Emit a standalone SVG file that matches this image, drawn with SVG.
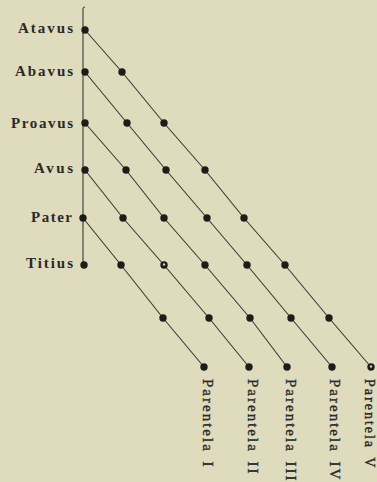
<svg xmlns="http://www.w3.org/2000/svg" width="377" height="482" viewBox="0 0 377 482">
<style>
.bg{fill:#dfdbbd}
.ln{fill:none;stroke:#3a3a36;stroke-width:1.1;stroke-linecap:round;stroke-linejoin:round}
.dot{fill:#1c1c1a}
.hole{fill:#cfcbb0}
.lab{font-family:"Liberation Serif",serif;font-weight:bold;font-size:15px;fill:#2a2a28}
.par{font-family:"Liberation Serif",serif;font-size:15px;fill:#2a2a28;stroke:#2a2a28;stroke-width:0.35;letter-spacing:2px;word-spacing:3px}
</style>
<rect class="bg" width="377" height="482"/>
<g id="connectors">
<path class="ln" d="M83,265 L83,9 Q83,7 84.5,7"/>
<polyline class="ln" points="85,30 122,72 164,123 205,170 244,218 285,265 329,318 371,367"/>
<polyline class="ln" points="85,72 127,123 166,170 207,218 247,265 291,318 332,367"/>
<polyline class="ln" points="85,123 126,170 164,218 205,265 250,318 287,367"/>
<polyline class="ln" points="85,170 123,218 164,265 209,318 249,367"/>
<polyline class="ln" points="83,218 121,265 163,318 204,367"/>
</g>
<g id="atavus"><circle class="dot" cx="85" cy="30" r="3.7"/><text class="lab" x="18" y="33" textLength="55" lengthAdjust="spacing">Atavus</text></g>
<g id="abavus"><circle class="dot" cx="85" cy="72" r="3.7"/><text class="lab" x="15" y="76" textLength="58" lengthAdjust="spacing">Abavus</text></g>
<g id="proavus"><circle class="dot" cx="85" cy="123" r="3.7"/><text class="lab" x="11" y="128" textLength="62" lengthAdjust="spacing">Proavus</text></g>
<g id="avus"><circle class="dot" cx="85" cy="170" r="3.7"/><text class="lab" x="34" y="173" textLength="39" lengthAdjust="spacing">Avus</text></g>
<g id="pater"><circle class="dot" cx="83" cy="218" r="3.7"/><text class="lab" x="31" y="222" textLength="41" lengthAdjust="spacing">Pater</text></g>
<g id="titius"><circle class="dot" cx="84" cy="265" r="3.7"/><text class="lab" x="26" y="268" textLength="47" lengthAdjust="spacing">Titius</text></g>
<g id="points">
<circle class="dot" cx="122" cy="72" r="3.7"/>
<circle class="dot" cx="127" cy="123" r="3.7"/><circle class="dot" cx="164" cy="123" r="3.7"/>
<circle class="dot" cx="126" cy="170" r="3.7"/><circle class="dot" cx="166" cy="170" r="3.7"/><circle class="dot" cx="205" cy="170" r="3.7"/>
<circle class="dot" cx="123" cy="218" r="3.7"/><circle class="dot" cx="164" cy="218" r="3.7"/><circle class="dot" cx="207" cy="218" r="3.7"/><circle class="dot" cx="244" cy="218" r="3.7"/>
<circle class="dot" cx="121" cy="265" r="3.7"/><circle class="dot" cx="164" cy="265" r="3.7"/><circle class="hole" cx="164" cy="264.5" r="1.2"/><circle class="dot" cx="205" cy="265" r="3.7"/><circle class="dot" cx="247" cy="265" r="3.7"/><circle class="dot" cx="285" cy="265" r="3.7"/>
<circle class="dot" cx="163" cy="318" r="3.7"/><circle class="dot" cx="209" cy="318" r="3.7"/><circle class="dot" cx="250" cy="318" r="3.7"/><circle class="dot" cx="291" cy="318" r="3.7"/><circle class="dot" cx="329" cy="318" r="3.7"/>
</g>
<g id="parentela-1"><circle class="dot" cx="204" cy="367" r="3.7"/><text class="par" transform="translate(202.5,379) rotate(90)">Parentela I</text></g>
<g id="parentela-2"><circle class="dot" cx="249" cy="367" r="3.7"/><text class="par" transform="translate(247.5,379) rotate(90)">Parentela II</text></g>
<g id="parentela-3"><circle class="dot" cx="287" cy="367" r="3.7"/><text class="par" transform="translate(285.5,379) rotate(90)">Parentela III</text></g>
<g id="parentela-4"><circle class="dot" cx="332" cy="367" r="3.7"/><text class="par" transform="translate(330,379) rotate(90)">Parentela IV</text></g>
<g id="parentela-5"><circle class="dot" cx="371" cy="367" r="3.7"/><circle class="hole" cx="371" cy="366.5" r="1.2"/><text class="par" style="font-size:14px" transform="translate(364.5,379) rotate(90)">Parentela V</text></g>
</svg>
